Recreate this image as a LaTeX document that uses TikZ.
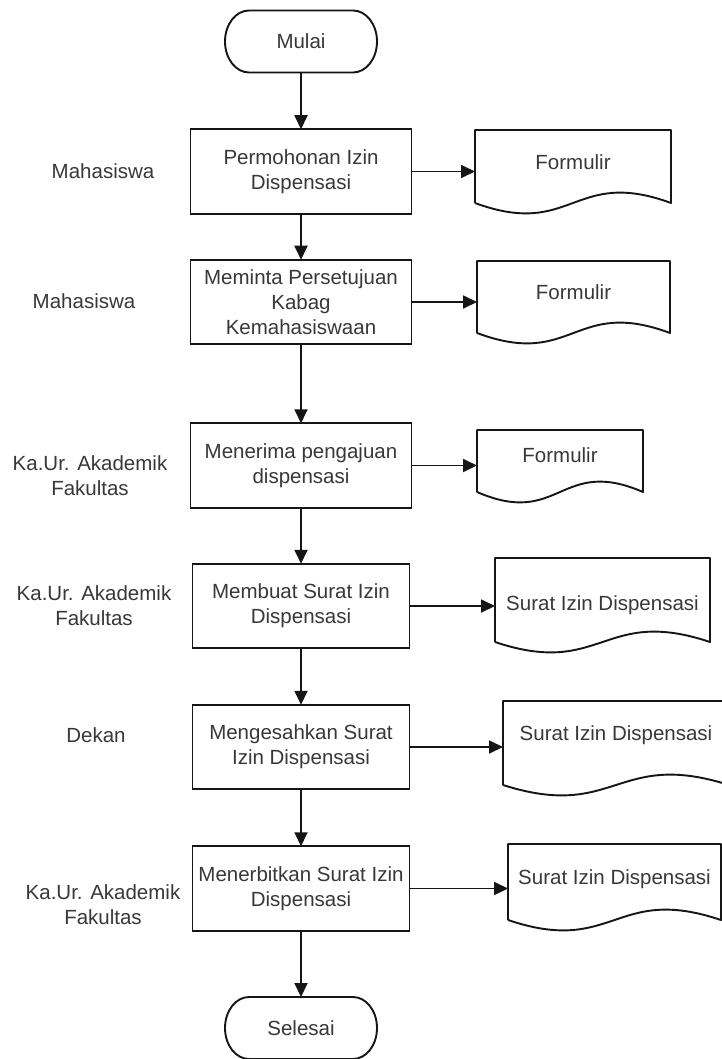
\documentclass[tikz,border=0pt]{standalone}
\usepackage{fontspec}
\setmainfont{Liberation Sans}
\usetikzlibrary{arrows.meta,calc}
\definecolor{ink}{HTML}{151515}
\definecolor{txt}{HTML}{383838}

\tikzset{
  base/.style={font=\fontsize{20.5}{25}\selectfont, text=txt},
  procbox/.style={base, draw=ink, line width=1.9pt, minimum width=221pt,
    minimum height=84.5pt, align=center, inner sep=2pt, outer sep=0pt},
  termbox/.style={base, minimum width=152pt, minimum height=62pt,
    inner sep=0pt, outer sep=0pt},
  docframe/.style={inner sep=0pt, outer sep=0pt},
  outline/.style={draw=ink, line width=1.9pt, line join=round},
  lane/.style={base, align=center},
  doctext/.style={base, anchor=base, inner sep=0pt},
  arr/.style={draw=ink, line width=1.8pt,
    -{Triangle[length=14pt,width=13pt]}},
}

% document symbol: name, left, top, width, height, text baseline offset, text
\newcommand\docshape[7]{%
  \node[docframe, minimum width=#4pt, minimum height=#5pt, anchor=north west] (#1) at (#2,#3) {};
  \draw[outline] (#1.south west) -- (#1.north west) -- (#1.north east) -- (#1.south east)
    .. controls ($(#1.south)+(0,-36)$) and ($(#1.south)+(0,36)$) .. (#1.south west);
  \node[doctext] (#1t) at ($(#1.north)+(0,#6)$) {#7};
}

% terminator outline with elliptic ends
\newcommand\termoutline[1]{%
  \draw[outline] ($(#1.north west)+(24,0)$) -- ($(#1.north east)+(-24,0)$)
    arc[start angle=90, end angle=-90, x radius=24pt, y radius=31pt]
    -- ($(#1.south west)+(24,0)$)
    arc[start angle=270, end angle=90, x radius=24pt, y radius=31pt] -- cycle;}

\begin{document}
\begin{tikzpicture}[x=1pt, y=-1pt]
\useasboundingbox (0,0) rectangle (722,1059);
\clip (0,0) rectangle (722,1059);
\fill[white] (0,0) rectangle (722,1059);

% start / end
\node[termbox] (start) at (301,41.5) {Mulai};
\termoutline{start}
\node[termbox] (stop) at (301,1028) {Selesai};
\termoutline{stop}

% process steps
\node[procbox] (b1) at (301,171.5) {Permohonan Izin\\Dispensasi};
\node[procbox] (b2) at (301,302) {Meminta Persetujuan\\Kabag\\Kemahasiswaan};
\node[procbox] (b3) at (301,465.5) {Menerima pengajuan\\dispensasi};
\node[procbox, minimum width=217pt] (b4) at (301,606) {Membuat Surat Izin\\Dispensasi};
\node[procbox, minimum width=217pt] (b5) at (301,747) {Mengesahkan Surat\\Izin Dispensasi};
\node[procbox, minimum width=217pt] (b6) at (301,888.5) {Menerbitkan Surat Izin\\Dispensasi};

% actors
\node[lane] (l1) at (103,171) {Mahasiswa};
\node[lane] (l2) at (84,301) {Mahasiswa};
\node[lane] (l3) at (90,476) {Ka.Ur. Akademik\\Fakultas};
\node[lane] (l4) at (94,606) {Ka.Ur. Akademik\\Fakultas};
\node[lane] (l5) at (96,735) {Dekan};
\node[lane] (l6) at (103,905) {Ka.Ur. Akademik\\Fakultas};

% documents
\docshape{d1}{475}{130}{196}{73}{39.5}{Formulir}
\docshape{d2}{477}{261}{193}{72}{38.5}{Formulir}
\docshape{d3}{477}{430}{166}{62}{32.5}{Formulir}
\docshape{d4}{495}{558}{215}{84}{52.5}{Surat Izin Dispensasi}
\docshape{d5}{503}{701}{226}{84}{39.5}{Surat Izin Dispensasi}
\docshape{d6}{508}{844}{213}{76}{40.5}{Surat Izin Dispensasi}

% main flow
\draw[arr] (start.south) -- (b1.north);
\draw[arr] (b1) -- (b2);
\draw[arr] (b2) -- (b3);
\draw[arr] (b3) -- (b4);
\draw[arr] (b4) -- (b5);
\draw[arr] (b5) -- (b6);
\draw[arr] (b6.south) -- (stop.north);

% outputs
\foreach \i in {1,...,6}{
  \draw[arr] (b\i.east) -- (b\i.east -| d\i.west);
}
\end{tikzpicture}
\end{document}
